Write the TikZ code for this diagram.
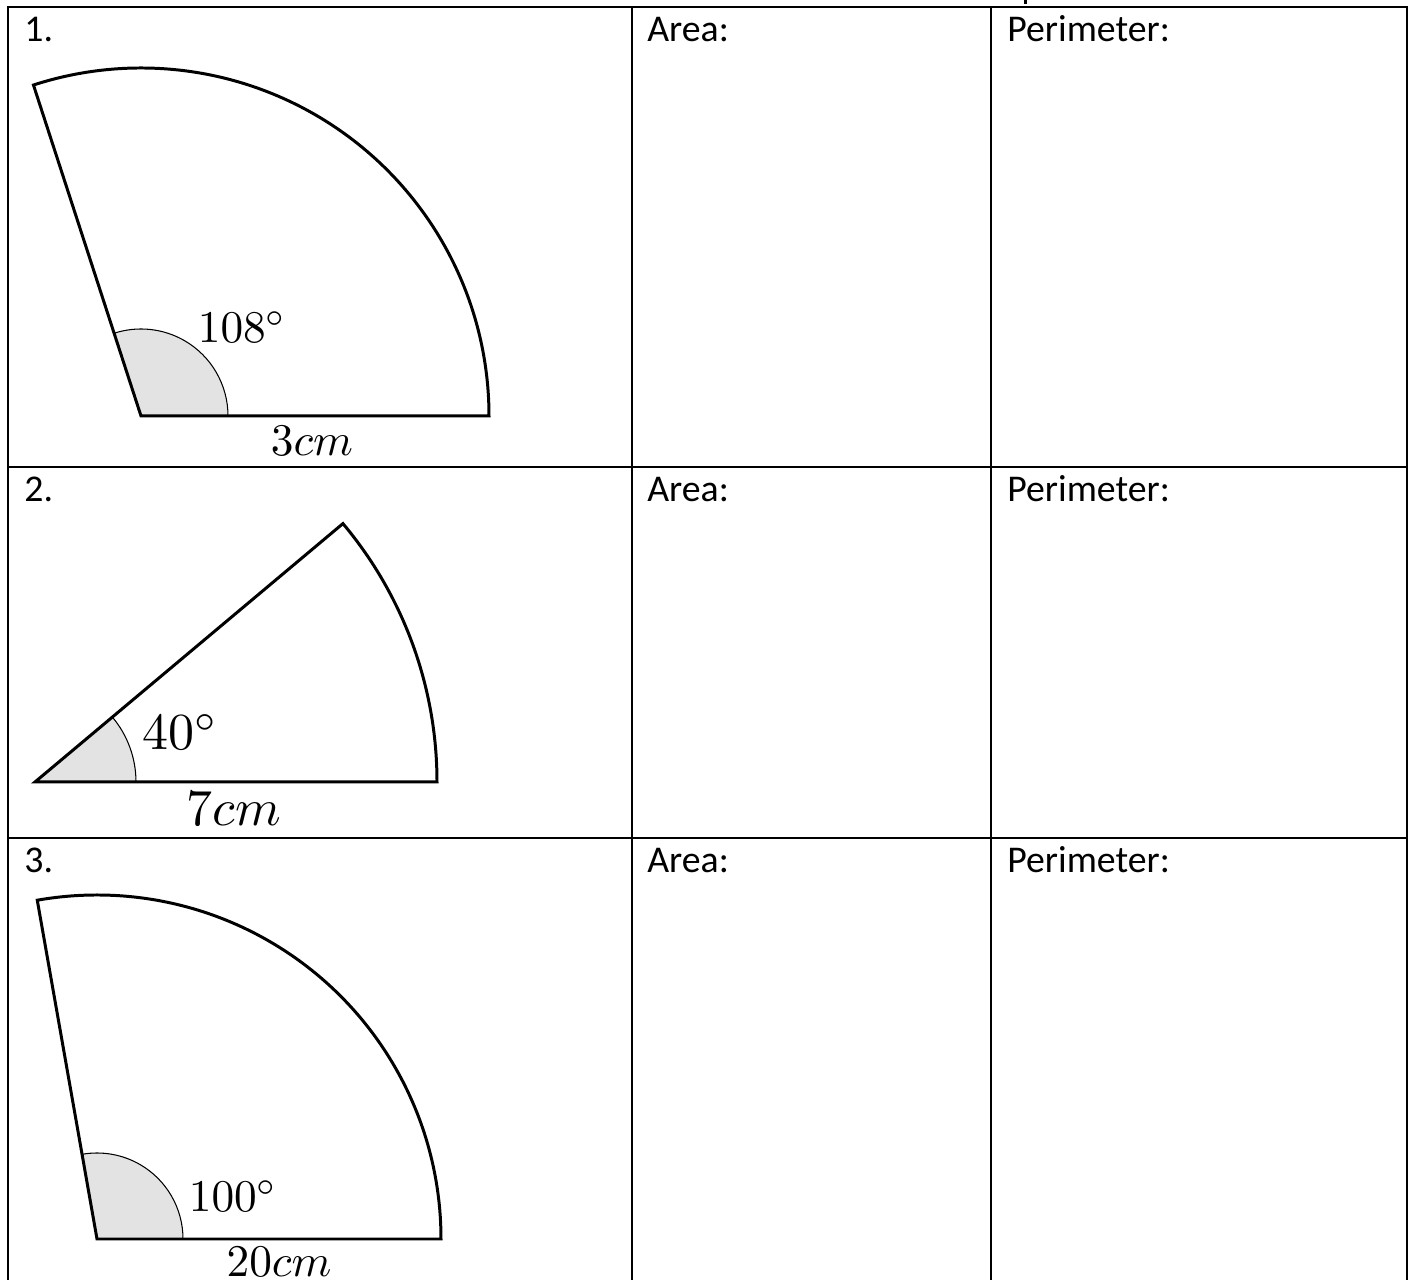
\documentclass[tikz,border=0pt]{standalone}
\usepackage{fontspec}
\setmainfont{Carlito}
\usetikzlibrary{positioning}
\definecolor{anglegray}{RGB}{227,227,227}

\begin{document}
\begin{tikzpicture}[x=0.02cm, y=0.02cm,
    every node/.style={inner sep=0},
    cell/.style={font=\fontsize{21.5}{26}\selectfont, anchor=base west},
    grid/.style={line width=1.14pt},
    rim/.style={line width=1.7pt},
    wedge/.style={fill=anglegray, draw=black, line width=0.6pt},
    lab/.style={scale=2.58},
    biglab/.style={scale=2.96}]
        \useasboundingbox (0,0) rectangle (1412,1280);
        % table
        \draw [grid] (8,0) -- (8,1273) -- (1407,1273) -- (1407,0);
        \draw [grid] (8,813) -- (1407,813);
        \draw [grid] (8,442) -- (1407,442);
        \draw [grid] (632,0) -- (632,1273);
        \draw [grid] (991,0) -- (991,1273);
        \fill (1024,1276) rectangle (1027,1280);
        \node [cell] (n1) at (24,1238) {1.};
        \node [cell] (area1) at (647,1238) {Area:};
        \node [cell] (per1) at (1007,1238) {Perimeter:};
        \node [cell] (n2) at (24,778) {2.};
        \node [cell] (area2) at (647,778) {Area:};
        \node [cell] (per2) at (1007,778) {Perimeter:};
        \node [cell] (n3) at (24,407) {3.};
        \node [cell] (area3) at (647,407) {Area:};
        \node [cell] (per3) at (1007,407) {Perimeter:};
        % sector 1
        \coordinate (o1) at (141,864);
        \filldraw [wedge] (o1) -- ++(87,0) arc[start angle=0, end angle=108, radius=87] -- cycle;
        \draw [rim] (o1) -- ++(348,0) arc[start angle=0, end angle=108, radius=348] -- cycle;
        \node [lab, anchor=base west] (ang1) at (197,937) {$108^\circ$};
        \node [lab, anchor=base] (len1) at (312,824) {$3cm$};
        % sector 2
        \coordinate (o2) at (35,498);
        \filldraw [wedge] (o2) -- ++(101,0) arc[start angle=0, end angle=40, radius=101] -- cycle;
        \draw [rim] (o2) -- ++(402,0) arc[start angle=0, end angle=40, radius=402] -- cycle;
        \node [biglab, anchor=base west] (ang2) at (141,530) {$40^\circ$};
        \node [biglab, anchor=base] (len2) at (234,454) {$7cm$};
        % sector 3
        \coordinate (o3) at (97,41);
        \filldraw [wedge] (o3) -- ++(86,0) arc[start angle=0, end angle=100, radius=86] -- cycle;
        \draw [rim] (o3) -- ++(344,0) arc[start angle=0, end angle=100, radius=344] -- cycle;
        \node [lab, anchor=base west] (ang3) at (188,68) {$100^\circ$};
        \node [lab, anchor=base] (len3) at (279,3) {$20cm$};
\end{tikzpicture}
\end{document}
